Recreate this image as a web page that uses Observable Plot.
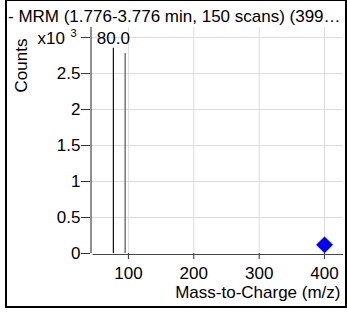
<!DOCTYPE html>
<html>
<head>
<meta charset="utf-8">
<script src="https://cdn.jsdelivr.net/npm/d3@7"></script>
<script src="https://cdn.jsdelivr.net/npm/@observablehq/plot@0.6"></script>
<style>
  html, body { margin: 0; padding: 0; background: #fff; }
  body { width: 347px; height: 312px; position: relative; overflow: hidden; font-family: "Liberation Sans", Arial, sans-serif; }
  #frame { position: absolute; left: 5px; top: -1px; width: 342px; height: 309px; box-sizing: border-box; border: 2px solid #000; }
  #title { position: absolute; left: 8px; top: 8px; font-size: 17px; line-height: 17px; white-space: nowrap; color: #000; }
  #chart { position: absolute; left: 0; top: 0; }
</style>
</head>
<body>
<div id="frame"></div>
<div id="title">- MRM (1.776-3.776 min, 150 scans) (399…</div>
<div id="chart"></div>
<script>
// Data
const peakMz = [77, 95];
const peakCounts = [2.85, 2.78];          // x10^3
const peakLabels = ["80.0", ""];
const markerMz = [400];
const markerCounts = [0.12];              // x10^3
const xTicks = [100, 200, 300, 400];
const yTicks = [0, 0.5, 1, 1.5, 2, 2.5, 3];
const yTickLabels = ["0", "0.5", "1", "1.5", "2", "2.5", ""];
const xLabel = "Mass-to-Charge (m/z)";
const yLabel = "Counts";

const peaks = peakMz.map((mz, i) => ({mz, v: peakCounts[i], label: peakLabels[i]}));
const markers = markerMz.map((mz, i) => ({mz, v: markerCounts[i]}));

const font = "Liberation Sans, Arial, sans-serif";

const chart = Plot.plot({
  width: 347,
  height: 312,
  marginLeft: 90,
  marginRight: 4,
  marginTop: 27,
  marginBottom: 59,
  style: {fontFamily: font, fontSize: "17px", background: "transparent", color: "#000", overflow: "visible"},
  x: {domain: [42, 429]},
  y: {domain: [0, 3.14]},
  marks: [
    Plot.gridX(xTicks, {stroke: "#dcdcdc", strokeOpacity: 1}),
    Plot.gridY(yTicks.filter(d => d > 0), {stroke: "#dcdcdc", strokeOpacity: 1}),
    Plot.axisY(yTicks, {tickSize: 9, tickPadding: 1, tickFormat: (d, i) => yTickLabels[i], label: null, stroke: "#333", fontSize: 17}),
    Plot.axisX(xTicks, {tickSize: 6, tickPadding: 7, label: null, stroke: "#333", fontSize: 17}),
    Plot.ruleX([0], {x: 42, y1: 0, y2: 3.14, stroke: "#222", dx: 0.5}),
    Plot.ruleY([0], {x1: 46, x2: 429, stroke: "#444", dy: 1}),
    Plot.ruleX(peaks, {x: "mz", y1: 0, y2: "v", stroke: (d, i) => i === 0 ? "#111" : "#555", strokeWidth: 1.2}),
    Plot.text(peaks.filter(d => d.label), {x: "mz", y: "v", text: "label", lineAnchor: "bottom", dy: -4, fontSize: 17}),
    Plot.dot(markers, {x: "mz", y: "v", symbol: "diamond2", fill: "#0000ff", stroke: "none", r: 7.6}),
    Plot.text(["x10"], {y: 3, frameAnchor: "left", dx: -53, dy: 1, textAnchor: "start", fontSize: 17}),
    Plot.text(["3"], {y: 3, frameAnchor: "left", dx: -20, dy: -4, textAnchor: "start", fontSize: 11}),
    Plot.text([xLabel], {frameAnchor: "bottom-right", dx: -3, dy: 44, lineAnchor: "bottom", textAnchor: "end", fontSize: 17}),
    Plot.text([yLabel], {frameAnchor: "top-left", dx: -69, dy: 38, rotate: -90, textAnchor: "middle", lineAnchor: "middle", fontSize: 17})
  ]
});
document.getElementById("chart").appendChild(chart);
</script>
</body>
</html>
